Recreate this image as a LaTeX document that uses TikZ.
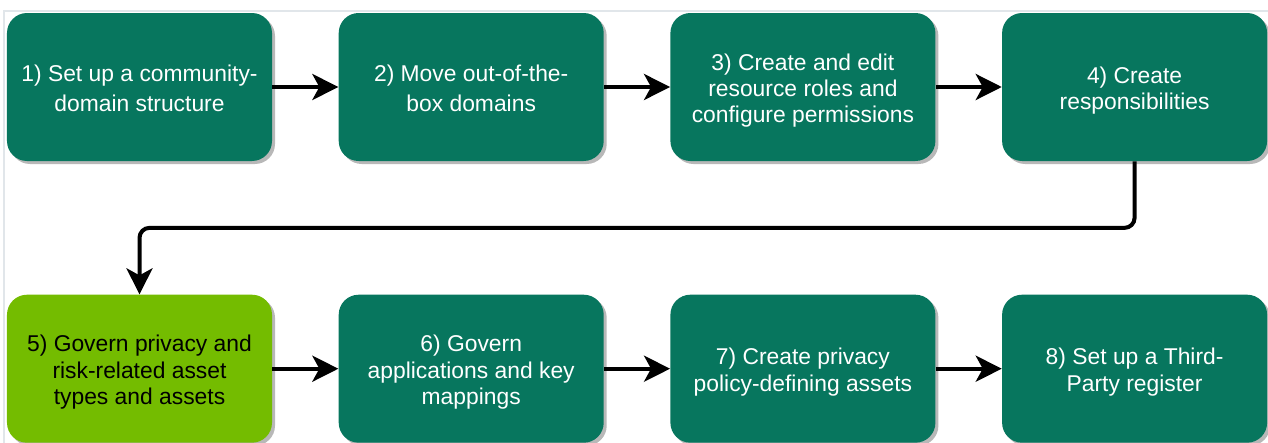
\documentclass[tikz,border=0pt]{standalone}
\usepackage{fontspec}
\setmainfont{Liberation Sans}
\usepackage{tikz}
\usetikzlibrary{arrows.meta,positioning,shadows,calc}

\definecolor{stepteal}{HTML}{07765E}
\definecolor{steplime}{HTML}{74BC00}
\definecolor{framegray}{HTML}{E1E6EA}
\newcommand{\steplabel}[1]{\rule{0pt}{1.04em}#1\rule[-0.22em]{0pt}{0.22em}}

\begin{document}
\begin{tikzpicture}[
  node distance=2.66cm and 1.32cm,
  stepnode/.style={rectangle, rounded corners=0.4cm, fill=stepteal,
    minimum width=5.3cm, minimum height=2.96cm, align=center,
    text=white, font=\fontsize{13}{15}\selectfont,
    drop shadow={shadow xshift=0.06cm, shadow yshift=-0.06cm,
      fill=black!28, opacity=1}},
  loose/.style={font=\fontsize{13}{17}\selectfont},
  hlnode/.style={stepnode, fill=steplime, text=black},
  flow/.style={line width=0.08cm,
    -{Stealth[length=0.52cm, width=0.52cm, inset=0.14cm]}},
]
  \useasboundingbox (0,0) rectangle (25.36,-8.86);
  % Frame
  \draw[framegray, line width=0.04cm] (0.08,-0.22) rectangle (25.6,-9.2);
  % Row 1
  \node[stepnode, loose] (b1) at (2.79,-1.74)
    {\steplabel{1) Set up a community-\\domain structure}};
  \node[stepnode, loose, right=of b1] (b2)
    {\steplabel{2) Move out-of-the-\\box domains}};
  \node[stepnode, right=of b2] (b3)
    {\steplabel{3) Create and edit\\resource roles and\\configure permissions}};
  \node[stepnode, right=of b3] (b4)
    {\steplabel{4) Create\\responsibilities}};
  % Row 2
  \node[hlnode, below=of b1] (b5)
    {\steplabel{5) Govern privacy and\\risk-related asset\\types and assets}};
  \node[stepnode, right=of b5] (b6)
    {\steplabel{6) Govern\\applications and key\\mappings}};
  \node[stepnode, right=of b6] (b7)
    {\steplabel{7) Create privacy\\policy-defining assets}};
  \node[stepnode, right=of b7] (b8)
    {\steplabel{8) Set up a Third-\\Party register}};
  % Edges
  \draw[flow] (b1) -- (b2);
  \draw[flow] (b2) -- (b3);
  \draw[flow] (b3) -- (b4);
  \coordinate (bend) at ($(b4.south)!0.5!(b5.north)$);
  \draw[flow, rounded corners=0.2cm] (b4.south) |- (bend) -| (b5.north);
  \draw[flow] (b5) -- (b6);
  \draw[flow] (b6) -- (b7);
  \draw[flow] (b7) -- (b8);
\end{tikzpicture}
\end{document}
